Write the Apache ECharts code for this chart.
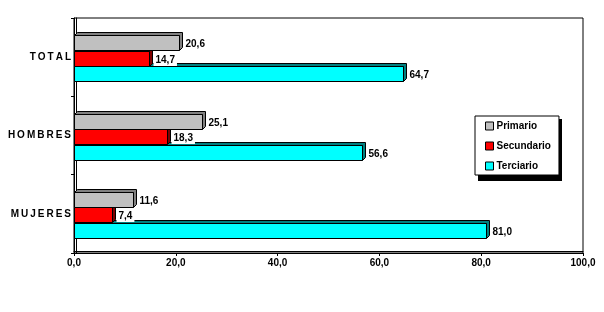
<!DOCTYPE html>
<html>
<head>
<meta charset="utf-8">
<script src="https://cdn.jsdelivr.net/npm/echarts@6/dist/echarts.min.js"></script>
<style>html,body{margin:0;padding:0;background:#fff}#c{width:604px;height:312px}</style>
</head>
<body>
<div id="c"></div>
<script>
const categories = ['TOTAL', 'HOMBRES', 'MUJERES'];
const primario = [20.6, 25.1, 11.6];
const secundario = [14.7, 18.3, 7.4];
const terciario = [64.7, 56.6, 81.0];
const seriesNames = ['Primario', 'Secundario', 'Terciario'];
const xTicks = { min: 0, max: 100, interval: 20 };

const FONT = 'Arial, "Liberation Sans", sans-serif';
const fmt = v => Number(v).toFixed(1).replace('.', ',');
const colors = ['#c0c0c0', '#ff0000', '#00ffff'];
const depthColors = ['#808080', '#800000', '#008080'];
const values = [primario, secundario, terciario];

const snap = v => Math.round(v) + 0.5;

function makeRender(i) {
  return function (params, api) {
    const v = api.value(0), c = api.value(1);
    const p0 = api.coord([0, c]);
    const p1 = api.coord([v, c]);
    const cy = p0[1] + 1 + (i - 1) * 15.5;
    const h = 15, d = 3;
    const x0 = snap(p0[0]), x1 = snap(p1[0]);
    const top = snap(cy - h / 2), bot = top + h;
    return {
      type: 'group',
      children: [
        {
          type: 'polygon',
          shape: { points: [[x0, top], [x0 + d, top - d], [x1 + d, top - d], [x1 + d, bot - d], [x1, bot], [x1, top]] },
          style: { fill: depthColors[i], stroke: '#000', lineWidth: 1 }
        },
        {
          type: 'rect',
          shape: { x: x0, y: top, width: x1 - x0, height: h },
          style: { fill: colors[i], stroke: '#000', lineWidth: 1 }
        },
        {
          type: 'text', z2: 10,
          style: {
            x: x1 + d + 1, y: (top + bot) / 2 + 1, text: fmt(v),
            font: 'bold 10px ' + FONT, fill: '#000', verticalAlign: 'middle', align: 'left',
            backgroundColor: '#fff', padding: [1, 2, 1, 2]
          }
        }
      ]
    };
  };
}

const drawOrder = [2, 1, 0];
const chart = echarts.init(document.getElementById('c'), null, { renderer: 'canvas' });
chart.setOption({
  animation: false,
  backgroundColor: '#fff',
  grid: { left: 74, right: 21, top: 18, bottom: 59, show: true, borderColor: '#000', borderWidth: 1, backgroundColor: 'transparent' },
  graphic: [
    { type: 'rect', left: 478, top: 119, shape: { width: 84, height: 62 }, style: { fill: '#000' }, z: 1 }
  ],
  legend: {
    orient: 'vertical', left: 475, top: 116,
    padding: [5, 8, 4, 10], itemGap: 10,
    itemWidth: 8, itemHeight: 8,
    itemStyle: { borderColor: '#000', borderWidth: 1 },
    icon: 'rect', z: 5,
    backgroundColor: '#fff', borderColor: '#000', borderWidth: 1,
    textStyle: { fontFamily: FONT, fontWeight: 'bold', fontSize: 10, color: '#000', padding: [0, 0, 0, -2] },
    data: seriesNames
  },
  xAxis: [{
    type: 'value', min: xTicks.min, max: xTicks.max, interval: xTicks.interval,
    splitLine: { show: false },
    axisLine: { show: true, lineStyle: { color: '#000', width: 1 } },
    axisTick: { show: true, length: 3, lineStyle: { color: '#000' } },
    axisLabel: { formatter: fmt, fontFamily: FONT, fontWeight: 'bold', fontSize: 10, color: '#000', margin: 5 }
  }, {
    type: 'value', position: 'bottom', offset: -2, min: xTicks.min, max: xTicks.max, interval: xTicks.interval,
    splitLine: { show: false }, axisTick: { show: false }, axisLabel: { show: false },
    axisLine: { show: true, lineStyle: { color: '#000', width: 1 } }
  }],
  yAxis: [{
    type: 'category', data: categories, inverse: true,
    axisLine: { show: true, lineStyle: { color: '#000', width: 1 } },
    axisTick: { show: true, length: 3, lineStyle: { color: '#000' } },
    axisLabel: {
      fontFamily: FONT, fontWeight: 'bold', fontSize: 10, color: '#000', margin: 3,
      formatter: v => v.split('').join('\u2009')
    }
  }, {
    type: 'category', data: categories, inverse: true, position: 'left', offset: -2,
    axisTick: { show: false }, axisLabel: { show: false }, splitLine: { show: false },
    axisLine: { show: true, lineStyle: { color: '#000', width: 1 } }
  }],
  series: drawOrder.map(i => ({
    name: seriesNames[i], type: 'custom',
    data: values[i].map((v, k) => [v, k]),
    encode: { x: 0, y: 1 },
    itemStyle: { color: colors[i], borderColor: '#000', borderWidth: 1 },
    renderItem: makeRender(i)
  }))
});
</script>
</body>
</html>
